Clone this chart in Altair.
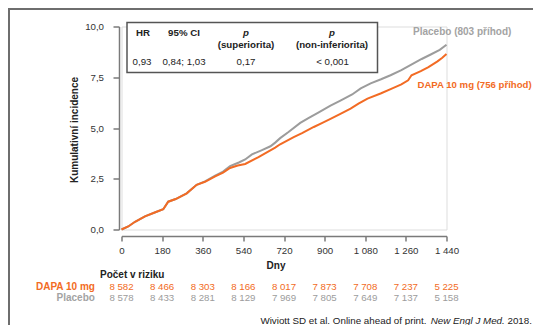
import altair as alt
import pandas as pd

# ---- data ----
days_dapa = [0, 30, 60, 104, 150, 185, 207, 240, 289, 333, 370, 415, 450, 481, 515, 548, 607, 640,
             681, 703, 763, 800, 852, 890, 926, 970, 1015, 1050, 1090, 1148, 1200, 1240, 1270, 1285,
             1326, 1360, 1400, 1420, 1440]
inc_dapa = [0.00, 0.15, 0.38, 0.65, 0.85, 1.00, 1.37, 1.50, 1.78, 2.20, 2.35, 2.62, 2.80, 3.03, 3.15,
            3.23, 3.57, 3.78, 4.03, 4.20, 4.55, 4.75, 5.05, 5.25, 5.45, 5.70, 5.95, 6.20, 6.45, 6.70,
            6.95, 7.15, 7.35, 7.60, 7.80, 8.00, 8.28, 8.45, 8.65]

days_plac = [0, 30, 60, 104, 150, 185, 207, 240, 289, 333, 370, 415, 450, 481, 520, 548, 578, 620,
             660, 681, 703, 740, 792, 830, 870, 926, 970, 1022, 1060, 1104, 1150, 1192, 1240, 1296,
             1330, 1370, 1410, 1440]
inc_plac = [0.00, 0.15, 0.38, 0.65, 0.85, 1.00, 1.37, 1.50, 1.78, 2.20, 2.37, 2.65, 2.85, 3.12, 3.30,
            3.45, 3.70, 3.90, 4.10, 4.28, 4.50, 4.80, 5.25, 5.50, 5.75, 6.10, 6.35, 6.65, 6.95, 7.20,
            7.40, 7.60, 7.85, 8.20, 8.40, 8.62, 8.85, 9.10]

risk_days = [0, 180, 360, 540, 720, 900, 1080, 1260, 1440]
risk_dapa = ["8 582", "8 466", "8 303", "8 166", "8 017", "7 873", "7 708", "7 237", "5 225"]
risk_plac = ["8 578", "8 433", "8 281", "8 129", "7 969", "7 805", "7 649", "7 137", "5 158"]

x_ticks = [0, 180, 360, 540, 720, 900, 1080, 1260, 1440]
y_ticks = [0, 2.5, 5, 7.5, 10]

ORANGE = "#F26B24"
GRAY = "#9C9C9C"
FONT = "Liberation Sans"

df_dapa = pd.DataFrame({"day": days_dapa, "inc": inc_dapa})
df_plac = pd.DataFrame({"day": days_plac, "inc": inc_plac})
df_risk_d = pd.DataFrame({"day": risk_days, "n": risk_dapa})
df_risk_p = pd.DataFrame({"day": risk_days, "n": risk_plac})

xscale = alt.Scale(domain=[0, 1440], nice=False, zero=False)
yscale = alt.Scale(domain=[0, 10], nice=False)

x_axis = alt.Axis(values=x_ticks, title=None, grid=False, offset=6.5, tickSize=5, labelPadding=4.5,
                  labelOverlap=False, labelFlush=False,
                  domainColor="#7a7a7a", tickColor="#7a7a7a", domainWidth=1.5, tickWidth=1.5,
                  labelFont=FONT, labelFontSize=9.7, labelColor="#333333",
                  labelExpr="replace(format(datum.value, ','), ',', ' ')")
y_axis = alt.Axis(values=y_ticks, title=None, grid=False, offset=2.5, tickSize=6, labelPadding=9.5,
                  labelOverlap=False,
                  domainColor="#7a7a7a", tickColor="#7a7a7a", domainWidth=1.5, tickWidth=1.5,
                  labelFont=FONT, labelFontSize=9.7, labelColor="#333333",
                  labelExpr="replace(format(datum.value, '.1f'), '.', ',')")

plac_line = alt.Chart(df_plac).mark_line(color=GRAY, strokeWidth=2).encode(
    x=alt.X("day:Q", scale=xscale, axis=x_axis),
    y=alt.Y("inc:Q", scale=yscale, axis=y_axis),
)
dapa_line = alt.Chart(df_dapa).mark_line(color=ORANGE, strokeWidth=2).encode(
    x=alt.X("day:Q", scale=xscale, axis=x_axis),
    y=alt.Y("inc:Q", scale=yscale, axis=y_axis),
)

risk_d = alt.Chart(df_risk_d).mark_text(font=FONT, fontSize=9.7, color=ORANGE, baseline="middle").encode(
    x=alt.X("day:Q", scale=xscale, axis=x_axis), y=alt.value(260.5), text="n:N")
risk_p = alt.Chart(df_risk_p).mark_text(font=FONT, fontSize=9.7, color=GRAY, baseline="middle").encode(
    x=alt.X("day:Q", scale=xscale, axis=x_axis), y=alt.value(271.8), text="n:N")

one = alt.Data(values=[{}])


def txt(s, x, y, size=9.7, weight="normal", color="#222222", align="center", style="normal",
        angle=0, baseline="middle"):
    return alt.Chart(one).mark_text(text=s, font=FONT, fontSize=size, fontWeight=weight, color=color,
                                    align=align, baseline=baseline, fontStyle=style, angle=angle).encode(
        x=alt.value(x), y=alt.value(y))


def rule(x1, y1, x2, y2, color, w):
    return alt.Chart(one).mark_rule(color=color, strokeWidth=w).encode(
        x=alt.value(x1), y=alt.value(y1), x2=alt.value(x2), y2=alt.value(y2))


box = alt.Chart(one).mark_rect(fill="white", stroke="#555555", strokeWidth=1.5).encode(
    x=alt.value(5.5), x2=alt.value(256), y=alt.value(-4), y2=alt.value(46))

layers = [
    rule(-112.5, -30, -112.5, 400, "#6e6e6e", 2),
    rule(-113.5, -17.5, 420, -17.5, "#6e6e6e", 2),
    plac_line, dapa_line,
    box,
    txt("HR", 21.5, 6.5, weight="bold"),
    txt("95% CI", 62.5, 6.5, weight="bold"),
    txt("p", 124.5, 6.5, weight="bold", style="italic"),
    txt("(superiorita)", 124.5, 18, weight="bold"),
    txt("p", 210.5, 6.5, weight="bold", style="italic"),
    txt("(non-inferiorita)", 210.5, 18, weight="bold"),
    txt("0,93", 20.5, 35.5),
    txt("0,84; 1,03", 62.5, 35.5),
    txt("0,17", 124.5, 35.5),
    txt("< 0,001", 211, 35.5),
    txt("Placebo (803 příhod)", 291.5, 5.2, size=10, weight="bold", color="#A3A3A3", align="left"),
    txt("DAPA 10 mg (756 příhod)", 296, 58.5, size=9.6, weight="bold", color=ORANGE, align="left"),
    txt("Kumulativní incidence", -46.5, 103.5, size=10, weight="bold", angle=270),
    txt("Dny", 154.5, 239, size=10, weight="bold"),
    txt("Počet v riziku", -21.5, 248.5, size=10, weight="bold", align="left"),
    txt("DAPA 10 mg", -26.6, 260.5, size=10, weight="bold", color=ORANGE, align="right"),
    txt("Placebo", -26.6, 271.8, size=10, weight="bold", color="#A3A3A3", align="right"),
    risk_d, risk_p,
    txt("Wiviott SD et al. Online ahead of print.", 305, 297.5, size=9.8, align="right",
        baseline="alphabetic"),
    txt("New Engl J Med.", 383.3, 297.5, size=9.8, align="right", style="italic", baseline="alphabetic"),
    txt("2018.", 410.5, 297.5, size=9.8, align="right", baseline="alphabetic"),
]

chart = alt.layer(*layers).properties(
    width=325, height=203,
    autosize=alt.AutoSizeParams(type="none"),
    padding={"left": 113.5, "top": 18.5, "right": 86.5, "bottom": 95.5},
).configure_view(stroke=None).configure(background="white").configure_axis(labelOverlap=False)

chart.save("out.html", embed_options={"renderer": "svg", "actions": False})
